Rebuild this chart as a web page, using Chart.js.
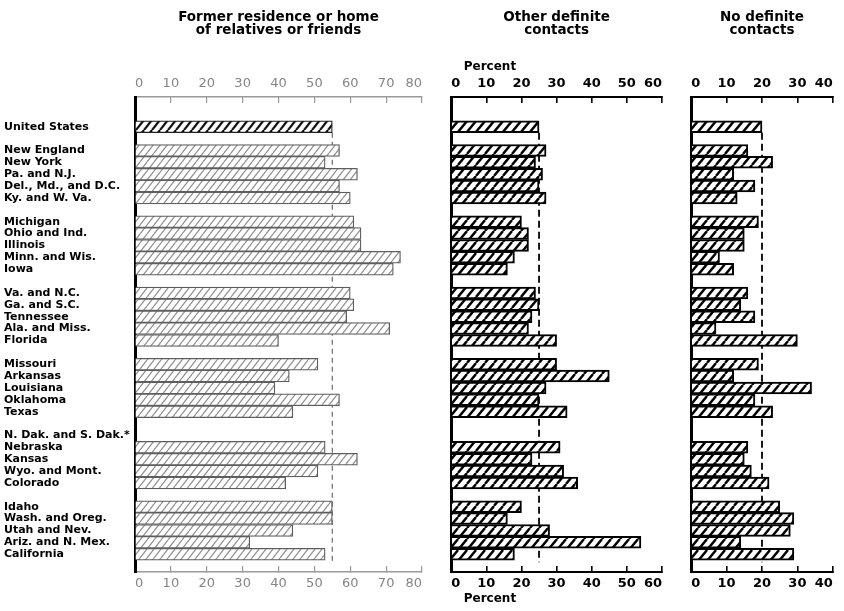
<!DOCTYPE html>
<html>
<head>
<meta charset="utf-8">
<title>Regional contacts</title>
<script src="https://cdn.jsdelivr.net/npm/chart.js@4.4.0/dist/chart.umd.min.js"></script>
<style>
    body { margin: 0; background: #fff; }
    #wrap { position: relative; width: 844px; height: 611px; }
    canvas { position: absolute; top: 0; }
</style>
</head>
<body>
<div id="wrap">
    <canvas id="c1" width="436" height="611" style="left:0px"></canvas>
    <canvas id="c2" width="236" height="611" style="left:440px"></canvas>
    <canvas id="c3" width="164" height="611" style="left:680px"></canvas>
</div>
<script>
    // regions, top to bottom, in the groups of the figure
    var regions = [
        "United States",
        "New England", "New York", "Pa. and N.J.", "Del., Md., and D.C.", "Ky. and W. Va.",
        "Michigan", "Ohio and Ind.", "Illinois", "Minn. and Wis.", "Iowa",
        "Va. and N.C.", "Ga. and S.C.", "Tennessee", "Ala. and Miss.", "Florida",
        "Missouri", "Arkansas", "Louisiana", "Oklahoma", "Texas",
        "N. Dak. and S. Dak.*", "Nebraska", "Kansas", "Wyo. and Mont.", "Colorado",
        "Idaho", "Wash. and Oreg.", "Utah and Nev.", "Ariz. and N. Mex.", "California"
    ];
    var groupSizes = [1, 5, 5, 5, 5, 5, 5];

    // percent of migrants by kind of contact (no bar for the Dakotas)
    var formerHome    = [55, 57, 53, 62, 57, 60, 61, 63, 63, 74, 72, 60, 61, 59, 71, 40, 51, 43, 39, 57, 44, null, 53, 62, 51, 42, 55, 55, 44, 32, 53];
    var otherContacts = [25, 27, 24, 26, 25, 27, 20, 22, 22, 18, 16, 24, 25, 23, 22, 30, 30, 45, 27, 25, 33, null, 31, 23, 32, 36, 20, 16, 28, 54, 18];
    var noContacts    = [20, 16, 23, 12, 18, 13, 19, 15, 15, 8, 12, 16, 14, 18, 7, 30, 19, 12, 34, 18, 23, null, 16, 15, 17, 22, 25, 29, 28, 14, 29];

    var ticksFormer = [0, 10, 20, 30, 40, 50, 60, 70, 80];
    var ticksOther  = [0, 10, 20, 30, 40, 50, 60];
    var ticksNone   = [0, 10, 20, 30, 40];

    // rows: two blank rows on top, a blank row after every group
    var labels = ["", ""];
    var rowIndex = [];
    var k = 0;
    groupSizes.forEach(function (n) {
        for (var i = 0; i < n; i++) {
            rowIndex.push(labels.length);
            labels.push(regions[k++]);
        }
        labels.push("");
    });

    function toRows(values) {
        var out = labels.map(function () { return null; });
        values.forEach(function (v, i) { out[rowIndex[i]] = v; });
        return out;
    }

    function hatch(line, width, w, h) {
        var c = document.createElement("canvas");
        c.width = w; c.height = h;
        var g = c.getContext("2d");
        g.fillStyle = "#fff";
        g.fillRect(0, 0, w, h);
        g.strokeStyle = line;
        g.lineWidth = width;
        for (var dx = -w; dx <= w; dx += w) {
            g.beginPath();
            g.moveTo(dx, h);
            g.lineTo(dx + w, 0);
            g.stroke();
        }
        return g.createPattern(c, "repeat");
    }

    var lightHatch = hatch("#8e8e8e", 1.2, 7, 9);
    var darkHatch  = hatch("#111", 2.2, 8, 10);
    var boldHatch  = hatch("#000", 2.4, 9, 11);

    // dashed line at the U.S. value, behind the bars
    var avgLine = {
        id: "avgLine",
        beforeDatasetsDraw: function (chart, args, opts) {
            var ctx = chart.ctx;
            var ys = chart.scales.y;
            var x = chart.scales.x.getPixelForValue(opts.value);
            var half = (ys.getPixelForValue(1) - ys.getPixelForValue(0)) / 2;
            var y0 = ys.getPixelForValue(rowIndex[0]) + half;
            var y1 = ys.getPixelForValue(rowIndex[rowIndex.length - 1]) + half + 2;
            ctx.save();
            ctx.setLineDash(opts.dash);
            ctx.strokeStyle = opts.color;
            ctx.lineWidth = opts.width;
            ctx.beginPath();
            ctx.moveTo(x, y0);
            ctx.lineTo(x, y1);
            ctx.stroke();
            ctx.restore();
        }
    };

    function xAxis(p, pos) {
        var top = pos === "top";
        return {
            type: "linear",
            position: pos,
            min: p.ticks[0],
            max: p.ticks[p.ticks.length - 1],
            afterBuildTicks: function (s) {
                s.ticks = p.ticks.map(function (v) { return {value: v}; });
            },
            border: {color: p.axisColor, width: p.axisWidth},
            grid: {drawOnChartArea: false, tickLength: -6, color: p.axisColor, lineWidth: p.tickWidth},
            ticks: {align: "inner", padding: top ? 11.2 : 10.2, color: p.tickColor, font: p.tickFont, maxRotation: 0, autoSkip: false},
            title: {
                display: !!p.unit,
                text: p.unit || "",
                align: "start",
                color: "#000",
                font: {family: "DejaVu Sans", weight: "bold", size: 12},
                padding: top ? {top: 9.5, bottom: 0} : {top: 0, bottom: 4.8}
            },
            afterFit: function (s) { s.height = top ? 47 : 39; }
        };
    }

    function makeChart(id, p) {
        var usRow = rowIndex[0];
        new Chart(document.getElementById(id), {
            type: "bar",
            data: {
                labels: labels,
                datasets: [{
                    data: toRows(p.values),
                    backgroundColor: function (c) { return c.index === usRow ? p.usFill : p.fill; },
                    borderColor: function (c) { return c.index === usRow ? p.usStroke : p.stroke; },
                    borderWidth: p.strokeWidth,
                    barPercentage: 1,
                    categoryPercentage: 1,
                    xAxisID: "x",
                    yAxisID: "y"
                }]
            },
            options: {
                indexAxis: "y",
                responsive: false,
                animation: false,
                layout: {padding: p.pad},
                plugins: {
                    legend: {display: false},
                    tooltip: {enabled: false},
                    title: {
                        display: true,
                        text: p.title,
                        fullSize: false,
                        color: "#000",
                        font: {family: "DejaVu Sans", weight: "bold", size: 13.5, lineHeight: 0.96},
                        padding: {top: 10.6, bottom: 13.5}
                    },
                    avgLine: {value: p.values[0], dash: p.dash, color: p.dashColor, width: p.dashWidth}
                },
                scales: {
                    x: xAxis(p, "bottom"),
                    x2: xAxis(p, "top"),
                    y: {
                        type: "category",
                        position: "left",
                        offset: true,
                        grid: {display: false},
                        border: {display: true, color: "#000", width: 3},
                        ticks: {
                            display: p.showLabels,
                            autoSkip: false,
                            crossAlign: "far",
                            padding: 0,
                            color: "#000",
                            font: {family: "DejaVu Sans", weight: "bold", size: 11}
                        },
                        afterFit: function (s) { s.width = p.yWidth; }
                    }
                }
            },
            plugins: [avgLine]
        });
    }

    makeChart("c1", {
        title: ["Former residence or home", "of relatives or friends"],
        values: formerHome, ticks: ticksFormer,
        pad: {left: 4, right: 14, top: 0, bottom: 0}, yWidth: 131, showLabels: true,
        tickFont: {family: "DejaVu Sans", size: 13, weight: "normal"}, tickColor: "#858585",
        axisColor: "#9a9a9a", axisWidth: 1.5, tickWidth: 1.2,
        fill: lightHatch, stroke: "#5e5e5e", usFill: darkHatch, usStroke: "#222", strokeWidth: 1.3,
        dash: [5, 4], dashColor: "#777", dashWidth: 1.3
    });

    makeChart("c2", {
        title: ["Other definite", "contacts"],
        values: otherContacts, ticks: ticksOther, unit: "   Percent",
        pad: {left: 0, right: 14, top: 0, bottom: 0}, yWidth: 8, showLabels: false,
        tickFont: {family: "DejaVu Sans", size: 13, weight: "bold"}, tickColor: "#000",
        axisColor: "#000", axisWidth: 2, tickWidth: 1.6,
        fill: boldHatch, stroke: "#000", usFill: boldHatch, usStroke: "#000", strokeWidth: 2,
        dash: [7, 4], dashColor: "#000", dashWidth: 1.8
    });

    makeChart("c3", {
        title: ["No definite", "contacts"],
        values: noContacts, ticks: ticksNone,
        pad: {left: 0, right: 11, top: 0, bottom: 0}, yWidth: 9, showLabels: false,
        tickFont: {family: "DejaVu Sans", size: 13, weight: "bold"}, tickColor: "#000",
        axisColor: "#000", axisWidth: 2, tickWidth: 1.6,
        fill: boldHatch, stroke: "#000", usFill: boldHatch, usStroke: "#000", strokeWidth: 2,
        dash: [7, 4], dashColor: "#000", dashWidth: 1.8
    });
</script>
</body>
</html>
